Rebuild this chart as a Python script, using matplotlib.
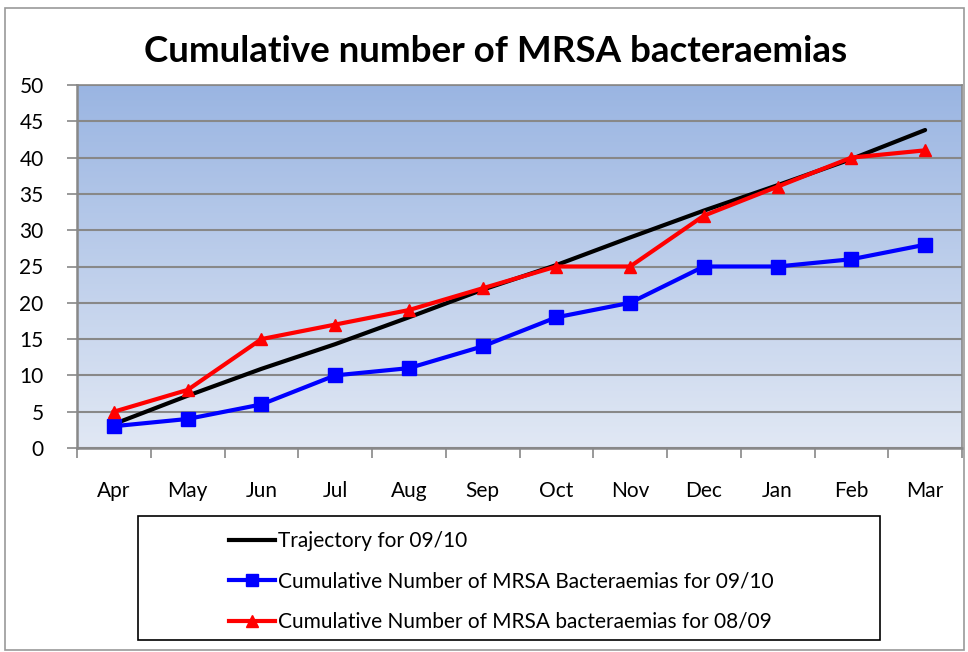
import numpy as np
import matplotlib.pyplot as plt
from matplotlib.patches import Rectangle
from matplotlib.lines import Line2D

plt.rcParams['font.family'] = ['Lato', 'DejaVu Sans']

meses = ["Apr", "May", "Jun", "Jul", "Aug", "Sep", "Oct", "Nov", "Dec", "Jan", "Feb", "Mar"]
trajetoria = [3.3, 7.2, 10.9, 14.3, 18.0, 21.8, 25.2, 29.0, 32.7, 36.2, 39.8, 43.8]
mrsa_0910 = [3, 4, 6, 10, 11, 14, 18, 20, 25, 25, 26, 28]
mrsa_0809 = [5, 8, 15, 17, 19, 22, 25, 25, 32, 36, 40, 41]

fig = plt.figure(figsize=(9.68, 6.52), dpi=100)
ax = fig.add_axes([77/968, 1 - 448/652, 885/968, 363/652])

x = np.arange(len(meses))

# fundo em degradê (azul em cima, claro embaixo)
top = np.array([0x9a, 0xb5, 0xe2]) / 255
bot = np.array([0xe1, 0xe8, 0xf4]) / 255
t = np.linspace(0, 1, 256)[:, None]
grad = (top * (1 - t) + bot * t)[:, None, :]
ax.imshow(grad, extent=[-0.5, 11.5, 0, 50], aspect='auto', zorder=0, origin='upper')

ax.set_xlim(-0.5, 11.5)
ax.set_ylim(0, 50)
ax.set_yticks(np.arange(0, 51, 5))
ax.set_xticks(x)
ax.set_xticklabels(meses)
ax.set_xticks(np.arange(-0.5, 12, 1), minor=True)
ax.tick_params(axis='x', which='major', length=0, pad=24, labelsize=15)
ax.tick_params(axis='x', which='minor', length=7, color='#888888', width=1.2, direction='out')
ax.tick_params(axis='y', length=7, color='#888888', width=1.2, labelsize=15, pad=17)
ax.grid(axis='y', color='#888888', linewidth=1.5, zorder=1)
ax.set_axisbelow(False)
for s in ax.spines.values():
    s.set_color('#888888')
    s.set_linewidth(1.2)
ax.spines['left'].set_linewidth(1.8)
ax.spines['bottom'].set_linewidth(1.8)

ax.plot(x, trajetoria, color='black', lw=3, solid_capstyle='round', zorder=3)
ax.plot(x, mrsa_0910, color='#0000ff', lw=3, marker='s', ms=9.5, zorder=4)
ax.plot(x, mrsa_0809, color='#ff0000', lw=3, marker='^', ms=8.5, zorder=5)

fig.text(496/968, 1 - 51/652, "Cumulative number of MRSA bacteraemias",
         ha='center', va='center', fontsize=26.5, fontweight='bold')

# caixa da legenda
fig.patches.append(Rectangle((138/968, 1 - 640/652), 742/968, 124/652,
                             transform=fig.transFigure, fill=False,
                             edgecolor='black', lw=1.2))
handles = [
    Line2D([], [], color='black', lw=3),
    Line2D([], [], color='#0000ff', lw=3, marker='s', ms=9),
    Line2D([], [], color='#ff0000', lw=3, marker='^', ms=8),
]
labels = ["Trajectory for 09/10",
          "Cumulative Number of MRSA Bacteraemias for 09/10",
          "Cumulative Number of MRSA bacteraemias for 08/09"]
fig.legend(handles, labels, loc='upper left', bbox_to_anchor=(219/968, 1 - 521/652),
           frameon=False, fontsize=15, handlelength=2.2, handletextpad=0.15,
           labelspacing=0.97, borderpad=0)

# borda externa do gráfico
fig.patches.append(Rectangle((5/968, 1 - 650/652), 959/968, 642/652,
                             transform=fig.transFigure, fill=False,
                             edgecolor='#999999', lw=1.2))

plt.savefig("out.png", dpi=100)
